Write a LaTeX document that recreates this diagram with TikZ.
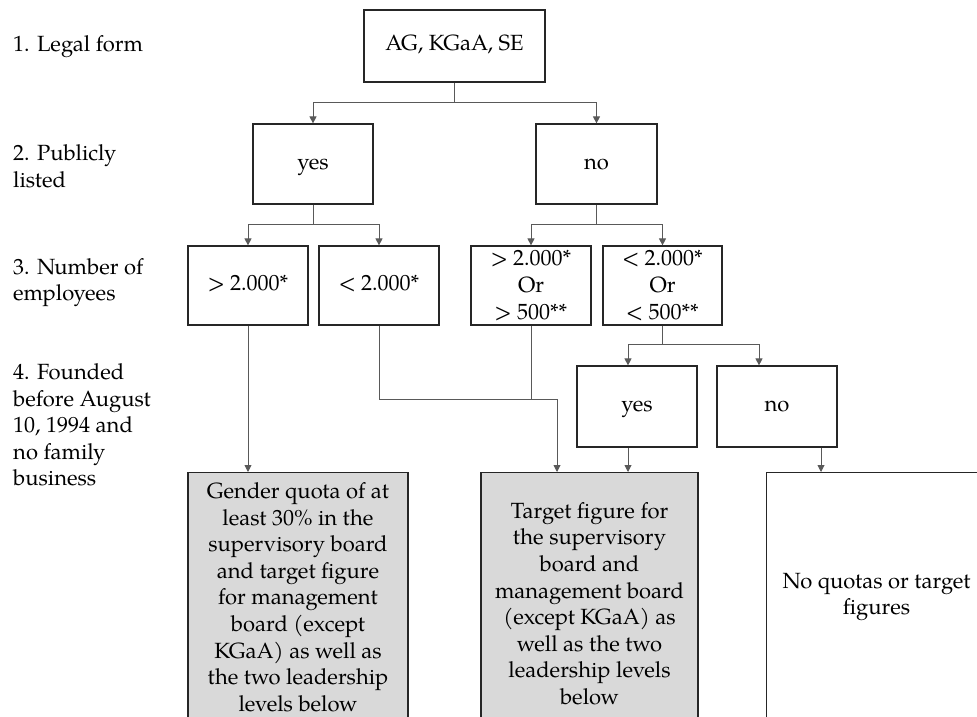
\documentclass[tikz,border=0pt]{standalone}
\usepackage{fontspec}
\setmainfont{TeX Gyre Pagella}
\usetikzlibrary{arrows.meta}
\begin{document}
\begin{tikzpicture}[x=1pt,y=-1pt,
  every node/.style={font=\fontsize{22}{26.6}\selectfont},
  box/.style={draw=black!85,line width=1.2pt,inner sep=0pt,align=center,
    minimum width=#1},
  box/.default=120,
  oneline/.style={text height=15pt,text depth=5pt},
  result/.style={box=#1,fill=black!15},
  plain/.style={draw=black!65,line width=0.9pt},
  arr/.style={plain,-{Triangle[length=7pt,width=7pt]}},
  rowlabel/.style={anchor=west,align=left,inner sep=0pt}]
\useasboundingbox (0,0) rectangle (977,717);
\clip (0,0) rectangle (977,717);

% criteria on the left
\node[rowlabel] (c1) at (13,47) {1. Legal form};
\node[rowlabel] (c2) at (13,166.5) {2. Publicly\\listed};
\node[rowlabel] (c3) at (13,282.5) {3. Number of\\employees};
\node[rowlabel] (c4) at (13,425) {4. Founded\\before August\\10, 1994 and\\no family\\business};

% decision boxes
\node[box=181,minimum height=72,oneline] (legal) at (454.5,46) {AG, KGaA, SE};
\node[box=120,minimum height=80,oneline] (listed) at (313,164) {yes};
\node[box=121,minimum height=80,oneline] (unlisted) at (596.5,164) {no};
\node[box=120,minimum height=79,oneline] (big) at (248,285.5) {> 2.000*};
\node[box=120,minimum height=79,oneline] (small) at (379,285.5) {< 2.000*};
\node[box=120,minimum height=79] (bigb) at (531,285.5) {> 2.000*\\Or\\> 500**};
\node[box=119,minimum height=79] (smallb) at (662.5,285.5) {< 2.000*\\Or\\< 500**};
\node[box=120,minimum height=81,oneline] (old) at (637,406.5) {yes};
\node[box=120,minimum height=81,oneline] (new) at (777,406.5) {no};

% outcomes
\node[result=220,minimum height=249,anchor=north] (quota) at (298,472)
  {Gender quota of at\\least 30\% in the\\supervisory board\\and target figure\\for management\\board (except\\KGaA) as well as\\the two leadership\\levels below};
\node[result=217,minimum height=262,anchor=north] (target) at (589.5,472)
  {Target figure for\\the supervisory\\board and\\management board\\(except KGaA) as\\well as the two\\leadership levels\\below};
\node[box=220,minimum height=249,anchor=north west] (none) at (766,472)
  {No quotas or target\\figures};

% connectors
\draw[plain] (legal.south) -- (legal.south |- 0,102) coordinate (j1);
\draw[arr] (j1) -| (listed.north);
\draw[arr] (j1) -| (unlisted.north);

\draw[plain] (listed.south) -- (listed.south |- 0,224) coordinate (j2);
\draw[arr] (j2) -| (big.north);
\draw[arr] (j2) -| (small.north);

\draw[plain] (unlisted.south) -- (unlisted.south |- 0,224) coordinate (j3);
\draw[arr] (j3) -| (bigb.north);
\draw[arr] (j3) -| (smallb.north);

\draw[plain] (smallb.south) -- (smallb.south |- 0,344) coordinate (j4);
\draw[arr] (j4) -| ([xshift=-9pt]old.north);
\draw[arr] (j4) -| ([xshift=-18pt]new.north);

\draw[arr] (big.south) -- (big.south |- quota.north);
\draw[plain] (small.south) -- (small.south |- 0,399) coordinate (j5);
\draw[arr] (j5) -| (557,0 |- target.north);
\draw[plain] (bigb.south) -- (bigb.south |- j5);
\draw[arr] ([xshift=-9pt]old.south) -- ([xshift=-9pt]old.south |- target.north);
\draw[arr] ([xshift=44pt]new.south) -- ([xshift=44pt]new.south |- none.north);
\end{tikzpicture}
\end{document}
